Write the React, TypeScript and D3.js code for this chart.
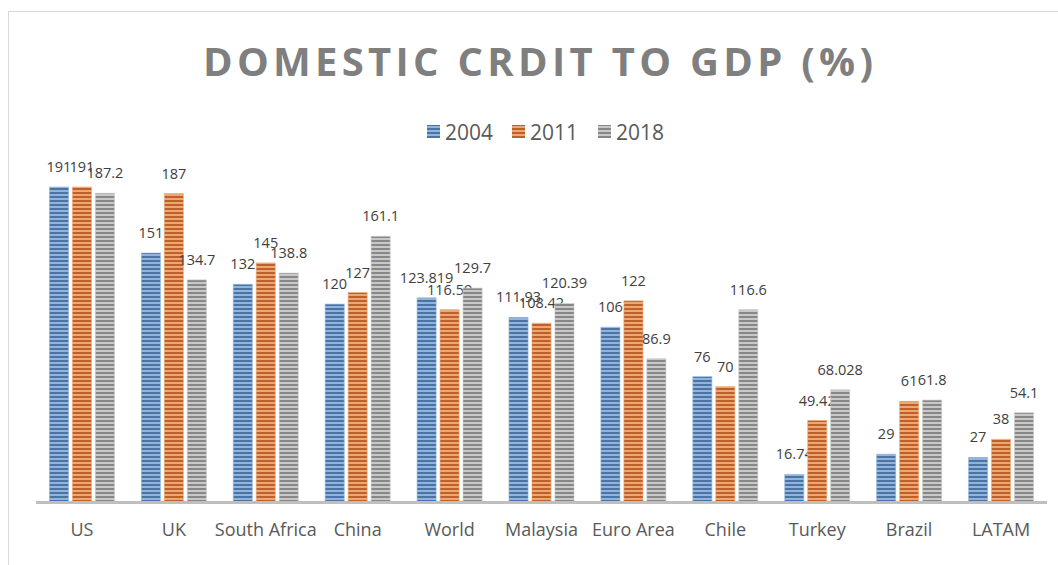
import React from "react";
import * as d3 from "d3";

const categories = ["US", "UK", "South Africa", "China", "World", "Malaysia", "Euro Area", "Chile", "Turkey", "Brazil", "LATAM"];
const seriesNames = ["2004", "2011", "2018"];
const values2004 = [191, 151, 132, 120, 123.819, 111.93, 106, 76, 16.74, 29, 27];
const values2011 = [191, 187, 145, 127, 116.59, 108.42, 122, 70, 49.42, 61, 38];
const values2018 = [187.2, 134.7, 138.8, 161.1, 129.7, 120.39, 86.9, 116.6, 68.028, 61.8, 54.1];
const labels2004 = ["191", "151", "132", "120", "123.819", "111.93", "106", "76", "16.74", "29", "27"];
const labels2011 = ["191", "187", "145", "127", "116.59", "108.42", "122", "70", "49.42", "61", "38"];
const labels2018 = ["187.2", "134.7", "138.8", "161.1", "129.7", "120.39", "86.9", "116.6", "68.028", "61.8", "54.1"];

const seriesValues = [values2004, values2011, values2018];
const seriesLabels = [labels2004, labels2011, labels2018];
const darkColors = ["#4a74a6", "#c05f27", "#878787"];
const lightColors = ["#93b3d8", "#eaa877", "#c8c8c8"];

const W = 1058;
const H = 565;
const baseY = 502;
const font = "'Open Sans', 'Noto Sans', sans-serif";

export default function App() {
  const x0 = d3.scaleBand<string>().domain(categories).range([36, 1047]).padding(0);
  const bw = x0.bandwidth();
  const x1 = d3.scaleBand<string>().domain(seriesNames).range([bw * 0.125, bw * 0.875]).paddingInner(0.17).paddingOuter(0.085);
  const y = d3.scaleLinear().domain([0, 200]).range([baseY, baseY - 329.8]);

  const legendX = [427, 512, 598];

  return (
    <svg width={W} height={H} style={{ position: "absolute", left: 0, top: 0, background: "#fff" }}>
      <defs>
        {seriesNames.map((s, i) => (
          <pattern key={s} id={`stripe${i}`} patternUnits="userSpaceOnUse" width={8} height={4}>
            <rect x={0} y={0} width={8} height={4} fill={lightColors[i]} />
            <rect x={0} y={0} width={8} height={2} fill={darkColors[i]} />
          </pattern>
        ))}
      </defs>
      <rect x={8.5} y={11.5} width={1070} height={580} fill="#fff" stroke="#d9d9d9" strokeWidth={1} />
      <text
        x={203}
        y={76}
        textLength={670}
        lengthAdjust="spacing"
        fontFamily={font}
        fontWeight="bold"
        fontSize={40}
        fill="#7f7f7f"
      >
        DOMESTIC CRDIT TO GDP (%)
      </text>
      {seriesNames.map((s, i) => (
        <g key={s}>
          <rect x={legendX[i]} y={125} width={13} height={13} fill={`url(#stripe${i})`} />
          <text x={legendX[i] + 18} y={139.5} fontFamily={font} fontSize={21} fill="#595959">
            {s}
          </text>
        </g>
      ))}
      {categories.map((c, ci) => (
        <g key={c} transform={`translate(${x0(c)},0)`}>
          {seriesNames.map((s, si) => {
            const v = seriesValues[si][ci];
            const bx = x1(s)!;
            const top = y(v);
            return (
              <g key={s}>
                <rect
                  x={bx}
                  y={top}
                  width={x1.bandwidth()}
                  height={baseY - top}
                  fill={`url(#stripe${si})`}
                  stroke={lightColors[si]}
                  strokeOpacity={0.6}
                  strokeWidth={1}
                />
                <text
                  x={bx + x1.bandwidth() / 2}
                  y={top - 15}
                  textAnchor="middle"
                  fontFamily={font}
                  fontSize={14.5}
                  fill="#404040"
                >
                  {seriesLabels[si][ci]}
                </text>
              </g>
            );
          })}
          <text x={bw / 2} y={536} textAnchor="middle" fontFamily={font} fontSize={18} fill="#595959">
            {c}
          </text>
        </g>
      ))}
      <line x1={36} x2={1047} y1={baseY + 0.5} y2={baseY + 0.5} stroke="#bfbfbf" strokeWidth={3} />
    </svg>
  );
}
